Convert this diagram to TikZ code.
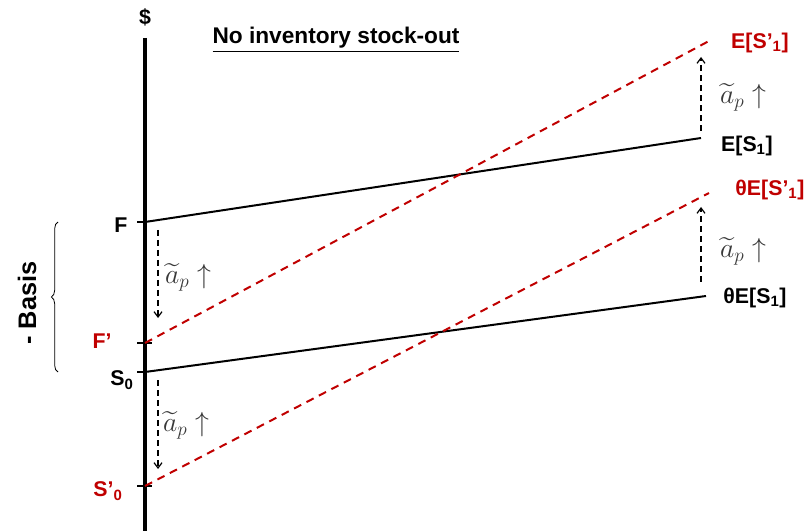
\documentclass[tikz,border=0pt]{standalone}
\usepackage{fontspec}
\setmainfont{Liberation Sans}
\usepackage{amsmath}
\usepackage{xcolor}
\usetikzlibrary{arrows.meta,decorations.pathreplacing}
\definecolor{basisred}{RGB}{192,0,0}
\tikzset{
  axisline/.style={line width=2.3pt},
  tickline/.style={line width=1.2pt},
  costline/.style={line width=1.5pt},
  shiftline/.style={line width=1.5pt,basisred,dash pattern=on 6pt off 4.5pt},
  movearrow/.style={-{Straight Barb[length=4pt,width=6pt]},dash pattern=on 4.5pt off 3pt,line width=0.9pt},
  ptlab/.style={font=\bfseries\fontsize{16}{18}\selectfont,inner sep=1pt},
  redlab/.style={ptlab,text=basisred},
  aplab/.style={text=black!78,font=\fontsize{22}{24}\selectfont}
}

\begin{document}
\begin{tikzpicture}[x=0.75pt,y=-0.75pt]
  \useasboundingbox (0,0) rectangle (811,531);
  % axis
  \coordinate (axtop) at (145,38);
  \coordinate (axbot) at (145,531);
  \draw[axisline] (axtop) -- (axbot);
  \node[ptlab] (dollar) at (145,17) {\$};
  \node[font=\bfseries\fontsize{17}{19}\selectfont] (title) at (336,40) {\underline{No inventory stock-out}};
  % points on the axis
  \coordinate (F) at (145,222);
  \coordinate (Fp) at (145,343);
  \coordinate (S0) at (145,372);
  \coordinate (S0p) at (145,486);
  \draw[tickline] (137,222) -- (F);
  \draw[tickline] (137,343) -- (152,343);
  \draw[tickline] (137,372) -- (S0);
  \draw[tickline] (137,486) -- (152,486);
  \node[ptlab] (Flab) at (121,225) {F};
  \node[redlab] (Fplab) at (102,341) {F’};
  \node[ptlab] (S0lab) at (122,380) {S\textsubscript{0}};
  \node[redlab] (S0plab) at (108,491) {S’\textsubscript{0}};
  % end points
  \coordinate (ES1) at (701,138);
  \coordinate (ES1p) at (709,41);
  \coordinate (tES1) at (706,296);
  \coordinate (tES1p) at (709,193);
  \draw[costline] (F) -- (ES1);
  \draw[shiftline] (Fp) -- (ES1p);
  \draw[costline] (S0) -- (tES1);
  \draw[shiftline] (S0p) -- (tES1p);
  \node[ptlab] (ES1lab) at (747,146) {E[S\textsubscript{1}]};
  \node[redlab] (ES1plab) at (760,43) {E[S’\textsubscript{1}]};
  \node[ptlab] (tES1lab) at (755,298) {θE[S\textsubscript{1}]};
  \node[redlab] (tES1plab) at (770,190) {θE[S’\textsubscript{1}]};
  % shifts
  \coordinate (r1a) at (701,131);
  \coordinate (r1b) at (701,57);
  \coordinate (r2a) at (701,282);
  \coordinate (r2b) at (701,207);
  \coordinate (l1a) at (158,230);
  \coordinate (l1b) at (158,318);
  \coordinate (l2a) at (158,380);
  \coordinate (l2b) at (158,469);
  \draw[movearrow] (r1a) -- (r1b);
  \draw[movearrow] (r2a) -- (r2b);
  \draw[movearrow] (l1a) -- (l1b);
  \draw[movearrow] (l2a) -- (l2b);
  \node[aplab] (ap1) at (743,97) {$\widetilde{a}_p\uparrow$};
  \node[aplab] (ap2) at (743,251) {$\widetilde{a}_p\uparrow$};
  \node[aplab] (ap3) at (188,277) {$\widetilde{a}_p\uparrow$};
  \node[aplab] (ap4) at (186,425) {$\widetilde{a}_p\uparrow$};
  % basis
  \coordinate (brbot) at (58,372);
  \coordinate (brtop) at (58,222);
  \draw[line width=0.6pt,decorate,decoration={brace,amplitude=5pt}] (brbot) -- (brtop);
  \node[ptlab,font=\bfseries\fontsize{19}{21}\selectfont,rotate=90] (basis) at (27,303) {- Basis};
\end{tikzpicture}
\end{document}
